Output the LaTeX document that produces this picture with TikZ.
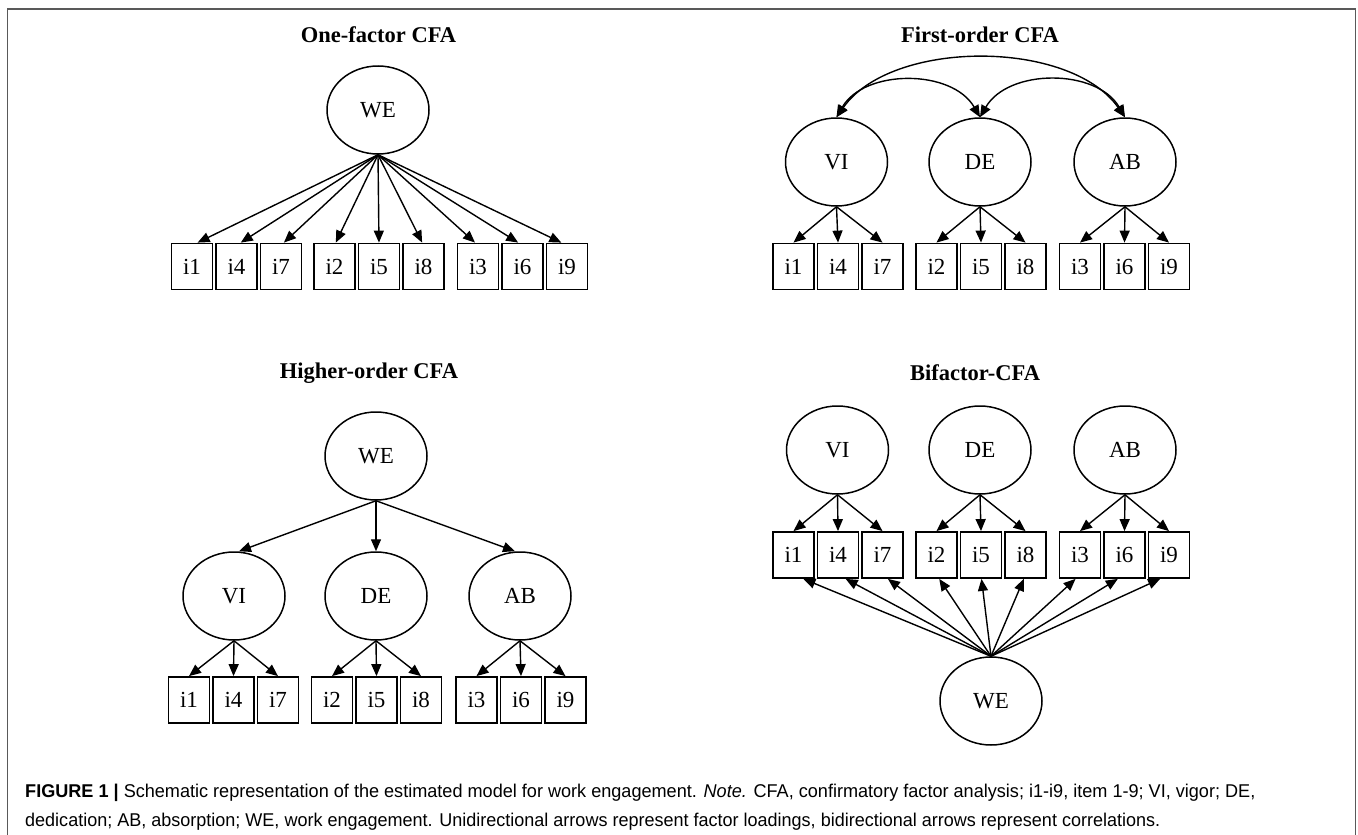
\documentclass[tikz,border=0pt]{standalone}
\usepackage{fontspec}
\setmainfont{Liberation Serif}
\setsansfont{Liberation Sans}
\usepackage{graphicx}
\usetikzlibrary{shapes.geometric,arrows.meta}
\begin{document}
\begin{tikzpicture}[x=1pt,y=-1pt,
  lat/.style={ellipse,draw,line width=1.5pt,minimum width=102pt,minimum height=88pt,inner sep=0pt,font=\fontsize{23}{26}\selectfont},
  item/.style={rectangle,draw,line width=1.8pt,minimum width=41pt,minimum height=46pt,inner sep=0pt,font=\fontsize{23}{26}\selectfont},
  ttl/.style={font=\fontsize{22.5}{26}\selectfont\bfseries,inner sep=0pt},
  tip/.tip={Triangle[length=12pt,width=10pt]},
  load/.style={-tip,line width=1.4pt},
  corr/.style={tip-tip,line width=1.4pt},
  capt/.style={font=\fontsize{18.5}{22}\selectfont\sffamily,anchor=west,inner sep=0pt},
  frame/.style={line width=1.6pt,draw=black!65}
]
\useasboundingbox (0,0) rectangle (1358,835);
\fill[white] (0,0) rectangle (1358,835);
\draw[frame] (7.5,840) -- (7.5,9) -- (1355.5,9) -- (1355.5,840);

% ---------- One-factor CFA ----------
\node[ttl] (t1) at (378.5,35) {One-factor CFA};
\node[lat] (tlWE) at (378,110) {WE};
\foreach \gx [count=\g from 1] in {236.5,379,522.5}{
  \foreach \k in {0,1,2}{
    \pgfmathtruncatemacro\num{\g+3*\k}
    \pgfmathsetmacro\dx{0.03*(378-(\gx+\k*44.5-44.5))}
    \node[item] (tl\num) at (\gx+\k*44.5-44.5,266.5) {i\num};
    \draw[load] (tlWE.south) -- ([xshift=\dx pt]tl\num.north);
  }
}

% ---------- First-order CFA ----------
\node[ttl] (t2) at (980,35) {First-order CFA};
\node[lat] (trVI) at (836.5,162) {VI};
\node[lat] (trDE) at (980,162) {DE};
\node[lat] (trAB) at (1125,162) {AB};
\foreach \gx/\f [count=\g from 1] in {838/VI,981/DE,1124.5/AB}{
  \foreach \k in {0,1,2}{
    \pgfmathtruncatemacro\num{\g+3*\k}
    \node[item] (tr\num) at (\gx+\k*44.5-44.5,266.5) {i\num};
    \draw[load] (tr\f.south) -- (tr\num.north);
  }
}
\draw[corr] (trVI.north) to[out=60,in=120] (trDE.north);
\draw[corr] (trDE.north) to[out=60,in=120] (trAB.north);
\draw[corr] (trVI.north) to[out=55,in=125,looseness=0.85] (trAB.north);

% ---------- Higher-order CFA ----------
\node[ttl] (t3) at (369,373) {Higher-order CFA};
\node[lat] (blWE) at (376,456) {WE};
\node[lat] (blVI) at (234,596) {VI};
\node[lat] (blDE) at (376,596) {DE};
\node[lat] (blAB) at (520,596) {AB};
\draw[load] (blWE.south) -- ([xshift=5pt]blVI.north);
\draw[load] (blWE.south) -- (blDE.north);
\draw[load] (blWE.south) -- ([xshift=-5pt]blAB.north);
\foreach \gx/\f [count=\g from 1] in {233.5/VI,376.5/DE,521/AB}{
  \foreach \k in {0,1,2}{
    \pgfmathtruncatemacro\num{\g+3*\k}
    \node[item] (bl\num) at (\gx+\k*44.5-44.5,700) {i\num};
    \draw[load] (bl\f.south) -- (bl\num.north);
  }
}

% ---------- Bifactor-CFA ----------
\node[ttl] (t4) at (975,373) {Bifactor-CFA};
\node[lat] (brVI) at (837.5,450) {VI};
\node[lat] (brDE) at (980,450) {DE};
\node[lat] (brAB) at (1125,450) {AB};
\node[lat] (brWE) at (991,701) {WE};
\foreach \gx/\f [count=\g from 1] in {838/VI,981/DE,1124.5/AB}{
  \foreach \k in {0,1,2}{
    \pgfmathtruncatemacro\num{\g+3*\k}
    \pgfmathsetmacro\dx{0.05*(991-(\gx+\k*44.5-44.5))}
    \node[item] (br\num) at (\gx+\k*44.5-44.5,555) {i\num};
    \draw[load] (br\f.south) -- (br\num.north);
    \draw[load] (brWE.north) -- ([xshift=\dx pt]br\num.south);
  }
}

% ---------- Caption ----------
\node[capt] (cap1) at (25,793) {\resizebox{1230pt}{\height}{\textbf{FIGURE 1 |} Schematic representation of the estimated model for work engagement. \textit{Note.} CFA, confirmatory factor analysis; i1-i9, item 1-9; VI, vigor; DE,}};
\node[capt] (cap2) at (25,822) {\resizebox{1135pt}{\height}{dedication; AB, absorption; WE, work engagement. Unidirectional arrows represent factor loadings, bidirectional arrows represent correlations.}};
\end{tikzpicture}
\end{document}
